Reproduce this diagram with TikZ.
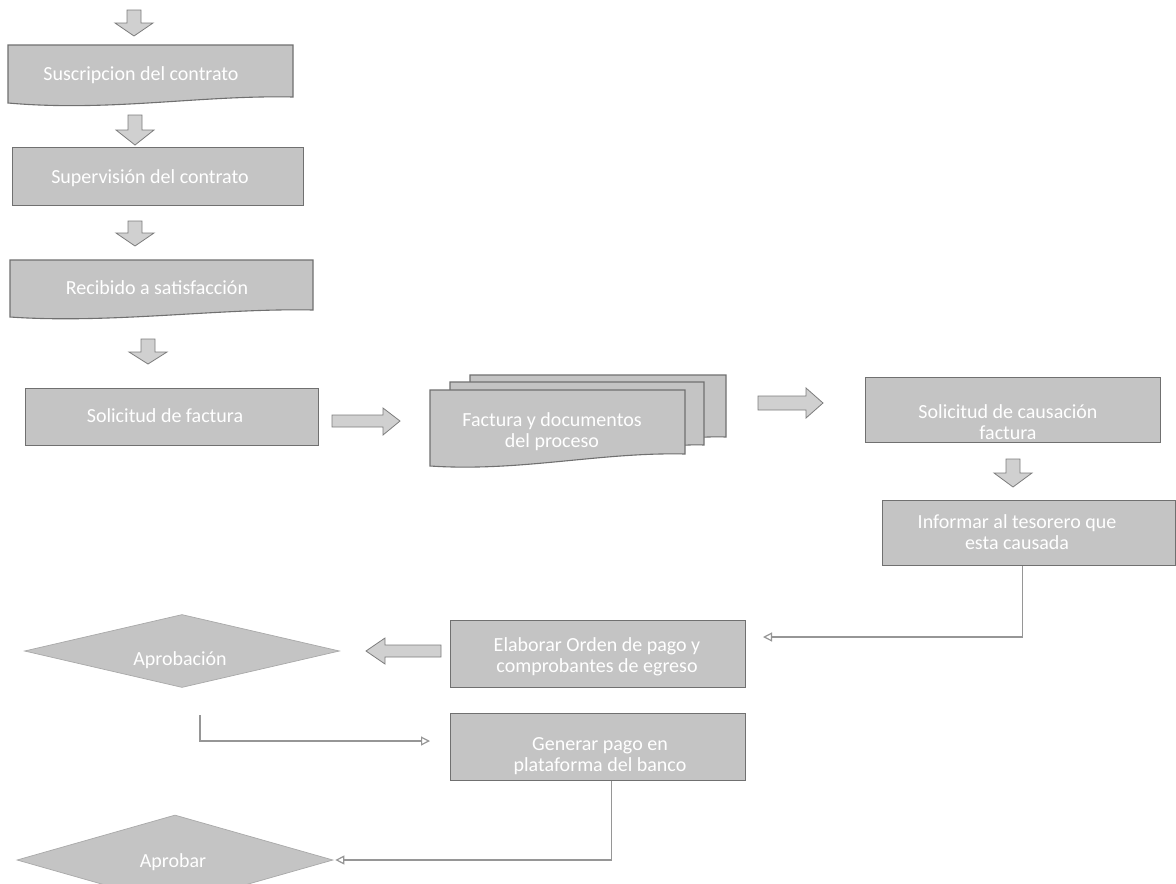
\documentclass[tikz,border=0pt]{standalone}
\usepackage{fontspec}
\setmainfont{Carlito}
\usetikzlibrary{shapes.geometric,arrows.meta}
\definecolor{boxfill}{RGB}{196,196,196}
\definecolor{boxline}{RGB}{112,112,112}
\definecolor{arrfill}{RGB}{208,208,208}
\definecolor{arrline}{RGB}{125,125,125}
\definecolor{conn}{RGB}{150,150,150}
\newcommand\DownArr[4]{%
  \path[blockarr] (#1-7,#2) -- (#1+7,#2) -- (#1+7,#3) -- (#1+19,#3) -- (#1,#4) -- (#1-19,#3) -- (#1-7,#3) -- cycle;}
\begin{document}
\begin{tikzpicture}[x=1pt,y=-1pt,
  procbox/.style={rectangle, draw=boxline, fill=boxfill, line width=1.1pt, inner sep=0pt, anchor=north west},
  docshape/.style={draw=boxline, fill=boxfill, line width=1.1pt},
  decision/.style={diamond, draw=boxline!60, fill=boxfill, line width=0.7pt, inner sep=0pt, shape aspect=4},
  lbl/.style={text=white, font=\fontsize{20}{21}\selectfont, align=center, inner sep=0pt},
  blockarr/.style={draw=arrline, fill=arrfill, line width=0.8pt},
  link/.style={draw=conn, line width=1.2pt, -{Triangle[open, length=9pt, width=9pt]}}]
\useasboundingbox (0,0) rectangle (1176,884);
\fill[white] (0,0) rectangle (1176,884);

% block arrows (vertical)
\DownArr{134}{10}{23}{36}
\DownArr{135}{115}{130}{145}
\DownArr{135}{221}{233}{246}
\DownArr{148}{339}{352}{364}
\DownArr{1013}{459}{473}{487}
% block arrows (horizontal)
\path[blockarr] (332,415) -- (383,415) -- (383,408) -- (400,421) -- (383,435) -- (383,427) -- (332,427) -- cycle;
\path[blockarr] (758,396) -- (806,396) -- (806,388) -- (823,403) -- (806,418) -- (806,410) -- (758,410) -- cycle;
\path[blockarr] (441,645) -- (385,645) -- (385,638) -- (366,651) -- (385,664) -- (385,657) -- (441,657) -- cycle;

% document shapes
\path[docshape] (8,45) -- (293,45) -- (293,97) .. controls (200,95) and (110,112) .. (8,103) -- cycle;
\node[lbl] (suscT) at (141,75) {Suscripcion del contrato};

\node[procbox, minimum width=291pt, minimum height=58pt] (superv) at (12,147) {};
\node[lbl] (supervT) at (150,178) {Supervisión del contrato};

\path[docshape] (10,260) -- (313,260) -- (313,310) .. controls (220,308) and (110,324) .. (10,317) -- cycle;
\node[lbl] (recibT) at (157,288) {Recibido a satisfacción};

\node[procbox, minimum width=293pt, minimum height=57pt] (solfac) at (25,388) {};
\node[lbl] (solfacT) at (165,416) {Solicitud de factura};

% multi-document
\path[docshape] (470,375) -- (726,375) -- (726,437) .. controls (690,436) and (680,441) .. (660,440) -- (660,420) -- (470,420) -- cycle;
\path[docshape] (450,382) -- (704,382) -- (704,445) .. controls (680,444) and (670,448) .. (640,447) -- (640,430) -- (450,430) -- cycle;
\path[docshape] (430,390) -- (685,390) -- (685,454) .. controls (600,452) and (520,472) .. (430,466) -- cycle;
\node[lbl] (factT) at (552,432) {Factura y documentos\\del proceso};

\node[procbox, minimum width=295pt, minimum height=65pt] (caus) at (865,377) {};
\node[lbl] (causT) at (1008,422) {Solicitud de causación\\factura};

\node[procbox, minimum width=293pt, minimum height=65pt] (inf) at (882,500) {};
\node[lbl] (infT) at (1017,532) {Informar al tesorero que\\esta causada};

\node[procbox, minimum width=295pt, minimum height=67pt] (elab) at (450,620) {};
\node[lbl] (elabT) at (597,657) {Elaborar Orden de pago y\\comprobantes de egreso};

\node[procbox, minimum width=295pt, minimum height=67pt] (gen) at (450,713) {};
\node[lbl] (genT) at (600,756) {Generar pago en\\plataforma del banco};

\node[decision, minimum width=315pt, minimum height=73pt] (aprob) at (182,651) {};
\node[lbl] (aprobT) at (180,660) {Aprobación};

\node[decision, minimum width=316pt, minimum height=90pt] (aprobar) at (175,860) {};
\node[lbl] (aprobarT) at (173,862) {Aprobar};

% connectors
\coordinate (c1end) at (763,637);
\draw[link] ([xshift=-6.5pt]inf.south) |- (c1end);
\coordinate (c2start) at (200,715);
\coordinate (c2end) at (430,741);
\draw[link] (c2start) |- (c2end);
\draw[link, shorten >=2pt] ([xshift=13.5pt]gen.south) |- (aprobar.east);
\end{tikzpicture}
\end{document}
